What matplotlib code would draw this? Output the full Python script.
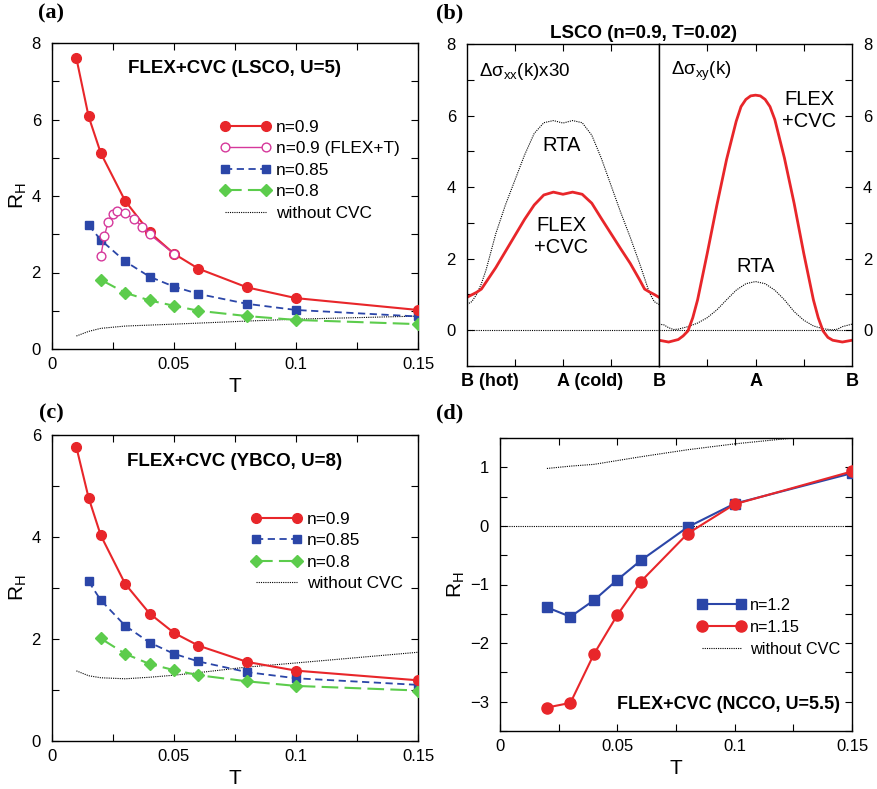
import numpy as np
import matplotlib.pyplot as plt
from matplotlib.ticker import MultipleLocator, FuncFormatter
from matplotlib.transforms import offset_copy

plt.rcParams['font.family'] = ['Liberation Sans', 'DejaVu Sans']
plt.rcParams['mathtext.fontset'] = 'custom'
plt.rcParams['mathtext.rm'] = 'Liberation Sans'
plt.rcParams['mathtext.it'] = 'Liberation Sans:italic'
plt.rcParams['mathtext.bf'] = 'Liberation Sans:bold'

# ---- (a) LSCO, U=5 ----
T_a09 = [0.01, 0.015, 0.02, 0.03, 0.04, 0.05, 0.06, 0.08, 0.1, 0.15]
RH_a09 = [7.6, 6.08, 5.12, 3.87, 3.05, 2.49, 2.10, 1.61, 1.33, 1.02]
T_a09T = [0.02, 0.0215, 0.023, 0.025, 0.0265, 0.03, 0.0335, 0.037, 0.04, 0.05]
RH_a09T = [2.43, 2.96, 3.32, 3.53, 3.60, 3.55, 3.40, 3.20, 3.00, 2.49]
T_a085 = [0.015, 0.02, 0.03, 0.04, 0.05, 0.06, 0.08, 0.1, 0.15]
RH_a085 = [3.24, 2.85, 2.29, 1.89, 1.63, 1.44, 1.18, 1.02, 0.85]
T_a08 = [0.02, 0.03, 0.04, 0.05, 0.06, 0.08, 0.1, 0.15]
RH_a08 = [1.81, 1.47, 1.27, 1.13, 1.00, 0.86, 0.76, 0.65]
T_a_rta = [0.01, 0.015, 0.02, 0.03, 0.05, 0.08, 0.1, 0.15]
RH_a_rta = [0.34, 0.46, 0.54, 0.60, 0.65, 0.73, 0.78, 0.86]

# ---- (b) k-resolved conductivities along the Fermi surface ----
k_xx = [0.0, 0.05, 0.1, 0.15, 0.2, 0.3, 0.4, 0.5, 0.6, 0.7, 0.8, 0.9, 1.0,
        1.1, 1.2, 1.3, 1.4, 1.5, 1.6, 1.7, 1.8, 1.85, 1.9, 1.95, 2.0]
sxx_cvc = [0.92, 0.99, 1.06, 1.15, 1.35, 1.75, 2.2, 2.65, 3.1, 3.5, 3.78, 3.86, 3.80,
           3.86, 3.80, 3.55, 3.12, 2.70, 2.28, 1.87, 1.40, 1.15, 1.07, 1.00, 0.92]
sxx_rta = [0.72, 0.80, 1.0, 1.3, 1.7, 2.7, 3.5, 4.2, 4.9, 5.5, 5.8, 5.86, 5.79,
           5.86, 5.80, 5.45, 4.80, 4.05, 3.30, 2.60, 1.85, 1.45, 1.05, 0.80, 0.72]
k_xy = [2.0, 2.1, 2.2, 2.25, 2.3, 2.35, 2.4, 2.5, 2.6, 2.7, 2.8, 2.85, 2.9, 2.95, 3.0,
        3.05, 3.1, 3.15, 3.2, 3.3, 3.4, 3.5, 3.6, 3.65, 3.7, 3.75, 3.8, 3.9, 4.0]
sxy_cvc = [-0.28, -0.33, -0.26, -0.16, -0.02, 0.35, 0.85, 2.15, 3.5, 4.77, 5.84, 6.25, 6.45, 6.55, 6.57,
           6.55, 6.45, 6.25, 5.89, 4.81, 3.55, 2.15, 0.85, 0.35, -0.02, -0.2, -0.28, -0.33, -0.28]
k_xy_rta = [2.0, 2.05, 2.1, 2.15, 2.2, 2.3, 2.4, 2.5, 2.6, 2.7, 2.8, 2.9, 3.0,
            3.1, 3.2, 3.3, 3.4, 3.5, 3.6, 3.7, 3.8, 3.85, 3.9, 4.0]
sxy_rta = [0.17, 0.15, 0.07, 0.02, 0.03, 0.10, 0.20, 0.35, 0.57, 0.85, 1.12, 1.30, 1.36,
           1.30, 1.12, 0.85, 0.52, 0.28, 0.12, 0.04, 0.01, 0.03, 0.10, 0.17]

# ---- (c) YBCO, U=8 ----
T_c09 = [0.01, 0.015, 0.02, 0.03, 0.04, 0.05, 0.06, 0.08, 0.1, 0.15]
RH_c09 = [5.76, 4.77, 4.03, 3.08, 2.50, 2.12, 1.87, 1.55, 1.38, 1.19]
T_c085 = [0.015, 0.02, 0.03, 0.04, 0.05, 0.06, 0.08, 0.1, 0.15]
RH_c085 = [3.13, 2.76, 2.26, 1.93, 1.71, 1.56, 1.35, 1.23, 1.10]
T_c08 = [0.02, 0.03, 0.04, 0.05, 0.06, 0.08, 0.1, 0.15]
RH_c08 = [2.01, 1.71, 1.51, 1.39, 1.29, 1.17, 1.08, 0.99]
T_c_rta = [0.01, 0.015, 0.02, 0.03, 0.04, 0.05, 0.06, 0.08, 0.1, 0.15]
RH_c_rta = [1.375, 1.28, 1.24, 1.22, 1.25, 1.29, 1.34, 1.45, 1.53, 1.74]

# ---- (d) NCCO, U=5.5 ----
T_d12 = [0.02, 0.03, 0.04, 0.05, 0.06, 0.08, 0.1, 0.15]
RH_d12 = [-1.39, -1.55, -1.27, -0.92, -0.59, -0.02, 0.38, 0.90]
T_d115 = [0.02, 0.03, 0.04, 0.05, 0.06, 0.08, 0.1, 0.15]
RH_d115 = [-3.10, -3.02, -2.19, -1.52, -0.95, -0.13, 0.37, 0.93]
T_d_rta = [0.02, 0.03, 0.04, 0.06, 0.08, 0.1, 0.125]
RH_d_rta = [0.98, 1.02, 1.05, 1.18, 1.30, 1.40, 1.50]

RED = '#e8262a'
MAG = '#d6389b'
BLUE = '#2b46a8'
GREEN = '#5ccc4c'
DOT = (0, (1, 1))

W, H = 877, 789
fig = plt.figure(figsize=(W / 100, H / 100), dpi=100)


def px_axes(l, t, r, b):
    return fig.add_axes([l / W, 1 - b / H, (r - l) / W, (b - t) / H])


fmt = FuncFormatter(lambda v, p: f'{v:g}'.replace('-', '\u2212'))


def style(ax, xmaj, xmin, ymaj, ymin):
    ax.xaxis.set_major_locator(MultipleLocator(xmaj))
    ax.xaxis.set_minor_locator(MultipleLocator(xmin))
    ax.yaxis.set_major_locator(MultipleLocator(ymaj))
    ax.yaxis.set_minor_locator(MultipleLocator(ymin))
    ax.xaxis.set_major_formatter(fmt)
    ax.yaxis.set_major_formatter(fmt)
    ax.tick_params(which='both', direction='in', top=True, right=True,
                   length=5, width=0.8, labelsize=12)
    ax.tick_params(axis='x', pad=6)
    ax.tick_params(axis='y', pad=8)
    for s in ax.spines.values():
        s.set_linewidth(1.0)


def rh_panel(ax):
    style(ax, 0.05, 0.025, 2, 1)
    ax.set_xlim(0, 0.15)
    ax.set_xlabel('T', fontsize=15, labelpad=3)
    ax.set_ylabel(r'R$_\mathrm{H}$', fontsize=15, labelpad=2)


legend_kw = dict(loc='upper left', frameon=False, borderpad=0, borderaxespad=0,
                 handletextpad=0.3, numpoints=2)

# (a)
ax = px_axes(52, 43, 418, 349)
ax.plot(T_a09, RH_a09, '-o', color=RED, lw=1.5, ms=7, label='n=0.9', zorder=4)
ax.plot(T_a09T, RH_a09T, '-o', color=MAG, lw=1.0, ms=6.3, mfc='white', mew=1.0,
        label='n=0.9 (FLEX+T)', zorder=5)
ax.plot(T_a085, RH_a085, 's', ls=(0, (4, 2.5)), color=BLUE, lw=1.3, ms=6, label='n=0.85', zorder=3)
ax.plot(T_a08, RH_a08, 'D', ls=(0, (8, 3)), color=GREEN, lw=1.5, ms=6, label='n=0.8', zorder=3)
ax.plot(T_a_rta, RH_a_rta, color='black', ls=DOT, lw=0.8, label='without CVC', zorder=2)
rh_panel(ax)
ax.set_ylim(0, 8)
ax.text(0.5, 0.918, 'FLEX+CVC (LSCO, U=5)', transform=ax.transAxes, ha='center', va='center',
        fontsize=13.5, fontweight='bold')
ax.legend(bbox_to_anchor=(0.459, 0.75), fontsize=12.4, handlelength=2.95,
          labelspacing=0.38, **legend_kw)

# (b)
axl = px_axes(467, 44, 659, 366)
axr = px_axes(659, 44, 852, 366)
for a in (axl, axr):
    a.set_ylim(-1, 8)
    a.yaxis.set_major_locator(MultipleLocator(2))
    a.yaxis.set_minor_locator(MultipleLocator(1))
    a.yaxis.set_major_formatter(fmt)
    a.tick_params(which='both', direction='in', length=5, width=0.8, labelsize=12, pad=8)
    a.tick_params(axis='x', which='both', top=True, bottom=True, labelbottom=False)
    for s in a.spines.values():
        s.set_linewidth(1.0)
    a.axhline(0, color='black', ls=DOT, lw=0.8, zorder=1)
axl.set_xlim(0, 2)
axr.set_xlim(2, 4)
axl.set_xticks([0.5, 1.0, 1.5])
axr.set_xticks([2.5, 3.0, 3.5])
axl.tick_params(axis='y', which='both', left=True, right=False)
axr.tick_params(axis='y', which='both', left=False, right=True, labelleft=False, labelright=True)

axl.plot(k_xx, sxx_rta, color='black', ls=DOT, lw=0.8)
axl.plot(k_xx, sxx_cvc, color=RED, lw=2.0)
axr.plot(k_xy_rta, sxy_rta, color='black', ls=DOT, lw=0.8)
axr.plot(k_xy, sxy_cvc, color=RED, lw=2.0)

axl.text(0.06, 0.915, 'Δσ$_{\\mathrm{xx}}$(k)x30', transform=axl.transAxes, fontsize=13.5, va='center')
axr.text(0.06, 0.915, 'Δσ$_{\\mathrm{xy}}$(k)', transform=axr.transAxes, fontsize=13.5, va='center')
axl.text(0.98, 5.15, 'RTA', fontsize=14.5, ha='center', va='center')
axl.text(0.98, 2.63, 'FLEX\n+CVC', fontsize=14.5, ha='center', va='center', linespacing=1.2)
axr.text(3.56, 6.13, 'FLEX\n+CVC', fontsize=14.5, ha='center', va='center', linespacing=1.2)
axr.text(3.0, 1.79, 'RTA', fontsize=14.5, ha='center', va='center')
axl.set_title('LSCO (n=0.9, T=0.02)', fontsize=13.5, fontweight='bold', pad=4, x=0.92)

# Fermi-surface points under the k axis, letter centred on its tick
k_names = [(axl, 0.0, 'B (hot)'), (axl, 1.0, 'A (cold)'), (axl, 2.0, 'B'),
           (axr, 3.0, 'A'), (axr, 4.0, 'B')]
for a, kx, name in k_names:
    a.text(kx, -0.022, name, ha='left', va='top', fontsize=13, fontweight='bold',
           transform=offset_copy(a.get_xaxis_transform(), fig=fig, x=-4.5, y=0, units='points'))

# (c)
ax = px_axes(52, 435, 418, 741)
ax.plot(T_c09, RH_c09, '-o', color=RED, lw=1.5, ms=7, label='n=0.9', zorder=4)
ax.plot(T_c085, RH_c085, 's', ls=(0, (4, 2.5)), color=BLUE, lw=1.3, ms=6, label='n=0.85', zorder=3)
ax.plot(T_c08, RH_c08, 'D', ls=(0, (8, 3)), color=GREEN, lw=1.5, ms=6, label='n=0.8', zorder=3)
ax.plot(T_c_rta, RH_c_rta, color='black', ls=DOT, lw=0.8, label='without CVC', zorder=2)
rh_panel(ax)
ax.set_ylim(0, 6)
ax.text(0.5, 0.915, 'FLEX+CVC (YBCO, U=8)', transform=ax.transAxes, ha='center', va='center',
        fontsize=13.5, fontweight='bold')
ax.legend(bbox_to_anchor=(0.544, 0.75), fontsize=12.4, handlelength=2.95,
          labelspacing=0.38, **legend_kw)

# (d)
ax = px_axes(500, 438, 852, 731)
ax.axhline(0, color='black', ls=DOT, lw=0.8, zorder=1)
ax.plot(T_d12, RH_d12, '-s', color=BLUE, lw=1.5, ms=6.8, label='n=1.2', zorder=3)
ax.plot(T_d115, RH_d115, '-o', color=RED, lw=1.5, ms=8, label='n=1.15', zorder=4)
ax.plot(T_d_rta, RH_d_rta, color='black', ls=DOT, lw=0.8, label='without CVC', zorder=2)
style(ax, 0.05, 0.025, 1, 0.5)
ax.set_xlim(0, 0.15)
ax.set_ylim(-3.5, 1.5)
ax.set_xlabel('T', fontsize=15, labelpad=3)
ax.set_ylabel(r'R$_\mathrm{H}$', fontsize=15, labelpad=2)
ax.text(0.966, 0.092, 'FLEX+CVC (NCCO, U=5.5)', transform=ax.transAxes, ha='right', va='center',
        fontsize=13, fontweight='bold')
ax.legend(bbox_to_anchor=(0.559, 0.454), fontsize=11.7, handlelength=3.0,
          labelspacing=0.43, **legend_kw)

# panel letters
for x, y, s in [(51, 13, '(a)'), (450, 13, '(b)'), (51, 413, '(c)'), (450, 413, '(d)')]:
    fig.text(x / W, 1 - y / H, s, ha='center', va='center', fontsize=16,
             fontweight='bold', family='Liberation Serif')

fig.savefig('out.png', dpi=100)
